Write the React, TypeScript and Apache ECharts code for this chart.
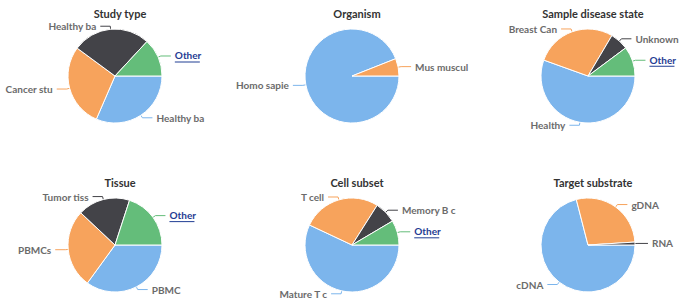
import React, { useEffect, useRef } from "react";
import * as echarts from "echarts";

const titles = ["Study type", "Organism", "Sample disease state", "Tissue", "Cell subset", "Target substrate"];

const studyNames = ["Healthy ba", "Cancer stu", "Healthy ba", "Other"];
const studyValues = [31.5, 28.6, 26.8, 13.1];

const organismNames = ["Homo sapie", "Mus muscul"];
const organismValues = [94, 6];

const diseaseNames = ["Healthy", "Breast Can", "Unknown", "Other"];
const diseaseValues = [55.5, 28, 6.3, 10.2];

const tissueNames = ["PBMC", "PBMCs", "Tumor tiss", "Other"];
const tissueValues = [35, 27, 18, 20];

const cellNames = ["Mature T c", "T cell", "Memory B c", "Other"];
const cellValues = [57, 27, 7.5, 8.5];

const substrateNames = ["cDNA", "gDNA", "RNA"];
const substrateValues = [71, 28, 1];

const palette = ["#7cb5ec", "#f7a35c", "#434348", "#64bd7a"];

const groups = [
  [studyNames, studyValues],
  [organismNames, organismValues],
  [diseaseNames, diseaseValues],
  [tissueNames, tissueValues],
  [cellNames, cellValues],
  [substrateNames, substrateValues],
] as [string[], number[]][];

const centersX = [115, 352, 588];
const centersY = [76, 245];
const titleY = [3, 172];

export default function App() {
  const ref = useRef<HTMLDivElement>(null);
  useEffect(() => {
    document.body.style.margin = "0";
    const chart = echarts.init(ref.current!, null, { renderer: "svg" });
    const labelBase = {
      fontSize: 10,
      fontWeight: "bold",
      color: "#6b6b6b",
      fontFamily: "Lato, sans-serif",
    };
    const option = {
      animation: false,
      backgroundColor: "#ffffff",
      title: titles.map((t, i) => ({
        text: t,
        left: centersX[i % 3],
        top: titleY[Math.floor(i / 3)],
        textAlign: "center",
        textStyle: {
          fontSize: 11,
          fontWeight: "bold",
          color: "#333333",
          fontFamily: "Lato, sans-serif",
        },
      })),
      series: groups.map(([names, values], i) => ({
        type: "pie",
        center: [centersX[i % 3], centersY[Math.floor(i / 3)]],
        radius: 47,
        startAngle: 0,
        clockwise: true,
        avoidLabelOverlap: true,
        itemStyle: { borderColor: "#ffffff", borderWidth: 1 },
        emphasis: { disabled: true },
        label: {
          show: true,
          position: "outside",
          ...labelBase,
          overflow: "none",
          distanceToLabelLine: 4,
          formatter: (p: any) => (p.name === "Other" ? "{o|Other}\n{u| }" : p.name),
          rich: {
            o: { ...labelBase, color: "#1f3c93", lineHeight: 12 },
            u: { fontSize: 1, lineHeight: 1, height: 1, width: 25, backgroundColor: "#1f3c93" },
          },
        },
        labelLine: {
          show: true,
          length: 3,
          length2: 10,
          lineStyle: { width: 1 },
        },
        data: names.map((n, j) => ({
          name: n,
          value: values[j],
          itemStyle: { color: palette[j] },
        })),
      })),
    };
    chart.setOption(option as any);
    return () => chart.dispose();
  }, []);
  return <div ref={ref} style={{ width: 680, height: 303 }} />;
}
